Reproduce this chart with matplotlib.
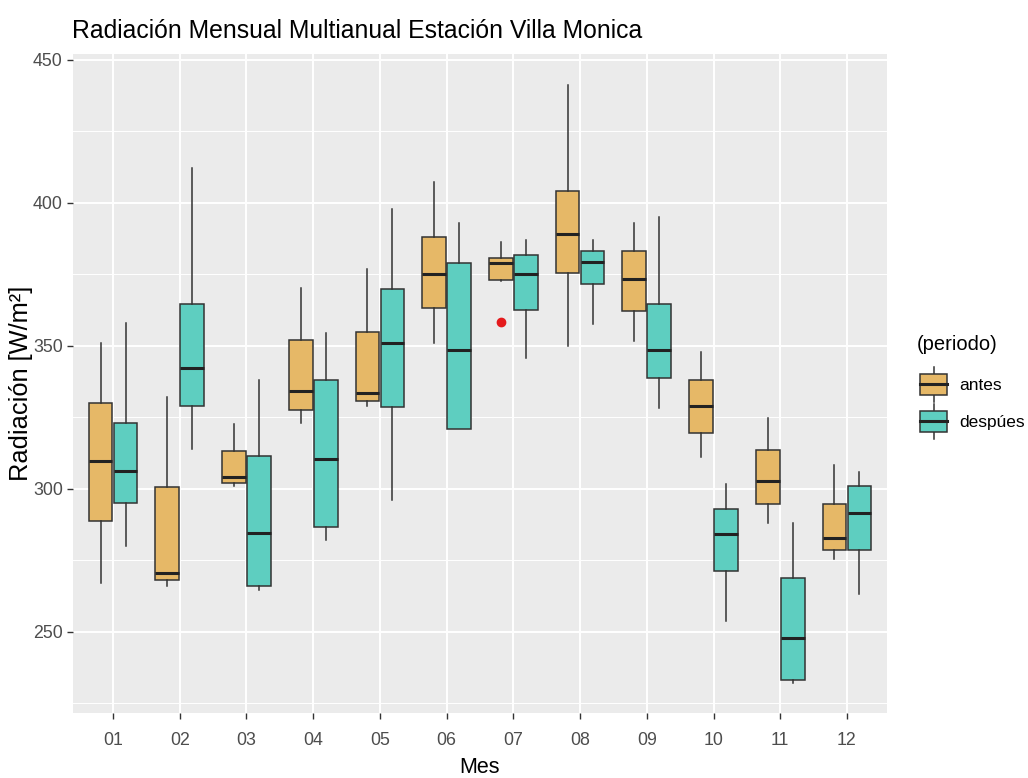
import matplotlib
matplotlib.use("Agg")
import matplotlib.pyplot as plt
from matplotlib.patches import Rectangle
from matplotlib.lines import Line2D
from matplotlib.legend_handler import HandlerBase
import numpy as np

plt.rcParams['font.family'] = ['Liberation Sans', 'DejaVu Sans']

months = ['01', '02', '03', '04', '05', '06', '07', '08', '09', '10', '11', '12']
groups = ['antes', 'despúes']

antes_whislo = [267, 266, 301, 323, 329, 351, 372.6, 350, 351.5, 311, 288, 275.2]
antes_q1 = [288.5, 268, 302, 327.6, 330.7, 363.2, 372.8, 375.3, 362, 319.6, 294.6, 278.5]
antes_med = [309.5, 270.6, 304, 334, 333.4, 375, 378.9, 389, 373.2, 329, 302.5, 282.6]
antes_q3 = [330, 300.5, 313, 352, 354.8, 388, 380.7, 404.2, 383.1, 337.8, 313.6, 294.6]
antes_whishi = [351, 332, 322.5, 370.3, 376.7, 407.3, 386.3, 441.1, 392.9, 347.9, 324.8, 308.4]
antes_fliers = [[], [], [], [], [], [], [358.4], [], [], [], [], []]

despues_whislo = [280, 314, 264.5, 282, 296, 321, 345.5, 357.6, 328.3, 253.8, 232, 263]
despues_q1 = [295, 329, 266, 286.6, 328.7, 321, 362.6, 371.6, 338.5, 271, 232.9, 278.5]
despues_med = [306, 342, 284.6, 310.5, 350.8, 348.6, 375, 379.3, 348.5, 284.2, 247.7, 291.6]
despues_q3 = [323, 364.5, 311.5, 338, 369.9, 378.9, 381.8, 383.1, 364.5, 292.9, 268.6, 300.8]
despues_whishi = [358, 412, 338, 354.3, 397.7, 392.9, 387, 387, 394.9, 301.6, 288, 305.8]
despues_fliers = [[] for _ in months]

colors = ['#E6B867', '#5ECEC0']
edge = '#333333'

W, H = 1028, 778
fig = plt.figure(figsize=(W / 100, H / 100), dpi=100)
fig.patch.set_facecolor('white')
ax = fig.add_axes([73/W, 1 - 713/H, (887 - 73)/W, (713 - 54)/H])
ax.set_facecolor('#EBEBEB')

def stats(wl, q1, md, q3, wh, fl):
    return [dict(whislo=a, q1=b, med=c, q3=d, whishi=e, fliers=f)
            for a, b, c, d, e, f in zip(wl, q1, md, q3, wh, fl)]

series = [
    stats(antes_whislo, antes_q1, antes_med, antes_q3, antes_whishi, antes_fliers),
    stats(despues_whislo, despues_q1, despues_med, despues_q3, despues_whishi, despues_fliers),
]
offsets = [-0.1875, 0.1875]
x = np.arange(1, len(months) + 1)
for s, off, col in zip(series, offsets, colors):
    ax.bxp(s, positions=x + off, widths=0.355, patch_artist=True, showcaps=False,
           boxprops=dict(facecolor=col, edgecolor=edge, linewidth=1.1),
           medianprops=dict(color='#222222', linewidth=2.2, solid_capstyle='butt'),
           whiskerprops=dict(color=edge, linewidth=1.1),
           flierprops=dict(marker='o', markerfacecolor='#E41A1C', markeredgecolor='#E41A1C',
                           markersize=6),
           zorder=3)

ax.set_xlim(0.4, 12.6)
ax.set_ylim(221.5, 452.0)
ax.set_xticks(x)
ax.set_xticklabels(months)
ax.set_yticks([250, 300, 350, 400, 450])
ax.set_yticks([225, 275, 325, 375, 425], minor=True)
ax.grid(which='major', color='white', linewidth=1.4, zorder=0)
ax.grid(which='minor', axis='y', color='white', linewidth=0.7, zorder=0)
ax.set_axisbelow(True)
for sp in ax.spines.values():
    sp.set_visible(False)
ax.tick_params(which='major', length=4.3, width=1.0, color='#333333', labelcolor='#4D4D4D',
               labelsize=12.8)
ax.tick_params(axis='x', which='major', pad=9.5)
ax.tick_params(axis='y', which='major', pad=3.0)
ax.tick_params(which='minor', length=0)

ax.set_xlabel('Mes', fontsize=15.5, color='black', va='top')
ax.xaxis.set_label_coords(0.5, -(757 - 713) / (713 - 54))
ax.set_ylabel('Radiación [W/m²]', fontsize=18.3, color='black', va='bottom')
ax.yaxis.set_label_coords(-(73 - 33) / (887 - 73), 0.5)

fig.text(72/W, 1 - 31/H, 'Radiación Mensual Multianual Estación Villa Monica',
         fontsize=17.8, color='black', ha='left', va='center')


class BoxHandle:
    def __init__(self, color):
        self.color = color


class HandlerBox(HandlerBase):
    def create_artists(self, legend, orig_handle, xdescent, ydescent, width, height,
                       fontsize, trans):
        cx = -xdescent + width / 2
        y0 = -ydescent
        wl = Line2D([cx, cx], [y0 + height * 0.03, y0 + height * 0.97], color=edge,
                    linewidth=1.1, transform=trans)
        bh = height * 0.57
        by = y0 + (height - bh) / 2
        rect = Rectangle((-xdescent, by), width, bh,
                         facecolor=orig_handle.color, edgecolor=edge, linewidth=1.1,
                         transform=trans)
        md = Line2D([-xdescent, -xdescent + width],
                    [y0 + height / 2, y0 + height / 2], color='#222222', linewidth=2.2,
                    transform=trans)
        return [wl, rect, md]


fig.text(917/W, 1 - 345/H, '(periodo)', fontsize=14.5, color='black',
         ha='left', va='center')

handles = [BoxHandle(c) for c in colors]
leg = fig.legend(handles, groups, handler_map={BoxHandle: HandlerBox()},
                 loc='upper left', bbox_to_anchor=(920/W, 1 - 366/H),
                 frameon=False, fontsize=12.5,
                 handlelength=1.56, handleheight=2.9, handletextpad=0.69, labelspacing=0.0,
                 borderpad=0.0, borderaxespad=0.0)

fig.savefig('out.png', dpi=100, facecolor='white')
